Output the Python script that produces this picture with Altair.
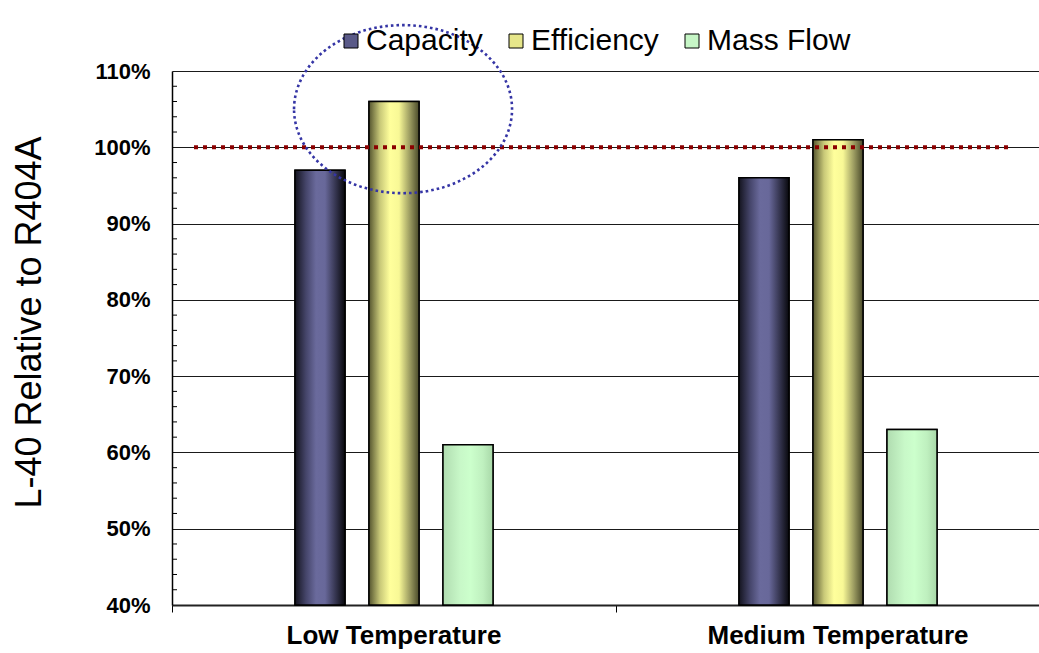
import altair as alt
import pandas as pd

# ---- data ----
categories = ["Low Temperature", "Medium Temperature"]
series = ["Capacity", "Efficiency", "Mass Flow"]
capacity = [97, 96]
efficiency = [106, 101]
mass_flow = [61, 63]
y_ticks = [40, 50, 60, 70, 80, 90, 100, 110]
minor_ticks = [42, 44, 46, 48, 52, 54, 56, 58, 62, 64, 66, 68, 72, 74, 76, 78,
               82, 84, 86, 88, 92, 94, 96, 98, 102, 104, 106, 108]
reference_level = [100]
highlight_category = ["Low Temperature"]
highlight_level = [105]

rows = []
for s, vals in zip(series, [capacity, efficiency, mass_flow]):
    for c, v in zip(categories, vals):
        rows.append({"Category": c, "Series": s, "Value": v})
df = pd.DataFrame(rows)

FONT = "Liberation Sans"

legend_colors = ["#5a5a88", "#e6e68a", "#c6f6c6"]


def grad(stops):
    return alt.Gradient(
        gradient="linear", x1=0, y1=0, x2=1, y2=0,
        stops=[alt.GradientStop(offset=o, color=c) for o, c in stops],
    )


gradients = {
    "Capacity": grad([(0, "#14141f"), (0.22, "#45456a"), (0.42, "#6a6a9c"),
                      (0.6, "#68689a"), (0.82, "#33334d"), (1, "#08080c")]),
    "Efficiency": grad([(0, "#55552f"), (0.22, "#c8c878"), (0.42, "#ffff9c"),
                        (0.6, "#f8f896"), (0.82, "#9a9a60"), (1, "#4a4a2a")]),
    "Mass Flow": grad([(0, "#b0dcb0"), (0.35, "#c8f8c8"), (0.55, "#ccffcc"),
                       (0.8, "#bff0bf"), (1, "#a8d8a8")]),
}

x_scale = alt.Scale(domain=categories, range=[0, 888], paddingInner=0, paddingOuter=0)
xo_scale = alt.Scale(domain=series, range=[111, 333], paddingInner=0.3243, paddingOuter=0.1622)
y_scale = alt.Scale(domain=[40, 110], nice=False, zero=False)

x_enc = alt.X(
    "Category:N", scale=x_scale, sort=categories, title=None,
    axis=alt.Axis(
        labelAngle=0, labelFont=FONT, labelFontSize=26, labelFontWeight="bold",
        labelColor="black", labelPadding=10, labelLimit=0, tickSize=7,
        tickColor="black", domainColor="#222222", domainWidth=2,
        bandPosition=0, grid=False,
    ),
)
y_enc = alt.Y(
    "Value:Q", scale=y_scale,
    axis=alt.Axis(
        values=y_ticks, labelExpr="datum.value + '%'", labelFont=FONT,
        labelFontSize=22, labelFontWeight="bold", labelColor="black",
        labelPadding=22, tickSize=0, domainColor="black", domainWidth=1.5,
        grid=True, gridColor="#1a1a1a", gridWidth=1.2,
        title="L-40 Relative to R404A", titleFont=FONT, titleFontSize=36,
        titleFontWeight="normal", titleColor="black", titlePadding=45,
        titleY=251,
    ),
)

base = alt.Chart(df).mark_bar(stroke="black", strokeWidth=1.5).encode(
    x=x_enc,
    xOffset=alt.XOffset("Series:N", scale=xo_scale, sort=series),
    y=y_enc,
    y2=alt.datum(40),
    color=alt.Color(
        "Series:N", scale=alt.Scale(domain=series, range=legend_colors),
        sort=series,
        legend=alt.Legend(
            title=None, orient="none", direction="horizontal", legendX=164,
            legendY=-45, symbolType="square", symbolSize=196,
            symbolStrokeColor="black", symbolStrokeWidth=1,
            labelFont=FONT, labelFontSize=30, labelColor="black",
            labelOffset=0, columnPadding=18, symbolOpacity=1,
        ),
    ),
)

overlays = []
for s in series:
    overlays.append(
        alt.Chart(df).transform_filter(alt.datum.Series == s)
        .mark_bar(fill=gradients[s], stroke="black", strokeWidth=1.5)
        .encode(
            x=alt.X("Category:N", scale=x_scale, sort=categories),
            xOffset=alt.XOffset("Series:N", scale=xo_scale, sort=series),
            y=alt.Y("Value:Q", scale=y_scale),
            y2=alt.datum(40),
        )
    )

minor = alt.Chart(pd.DataFrame({"Value": minor_ticks})).mark_rule(
    color="black", strokeWidth=1
).encode(y=alt.Y("Value:Q", scale=y_scale), x=alt.value(0), x2=alt.value(5))

ref_line = alt.Chart(pd.DataFrame({"Value": reference_level})).mark_rule(
    color="#8b0000", strokeWidth=4, strokeDash=[4, 5]
).encode(y=alt.Y("Value:Q", scale=y_scale), x=alt.value(22), x2=alt.value(841))

ellipse_path = "M -0.917 0 A 1 0.771 0 1 1 1.083 0 A 1 0.771 0 1 1 -0.917 0 Z"
ellipse = alt.Chart(
    pd.DataFrame({"Category": highlight_category, "Value": highlight_level})
).mark_point(
    shape=ellipse_path, size=47524, filled=False, stroke="#3535a5",
    strokeWidth=2.6, strokeDash=[2.6, 3], opacity=1,
).encode(
    x=alt.X("Category:N", scale=x_scale, sort=categories),
    y=alt.Y("Value:Q", scale=y_scale),
)

chart = alt.layer(base, *overlays, minor, ref_line, ellipse).properties(
    width=866, height=534,
    autosize=alt.AutoSizeParams(type="none"),
    padding={"left": 172, "top": 71, "right": 1, "bottom": 48},
    background="white",
).configure_view(stroke=None)

chart.save("out.html", embed_options={"renderer": "svg", "actions": False})
